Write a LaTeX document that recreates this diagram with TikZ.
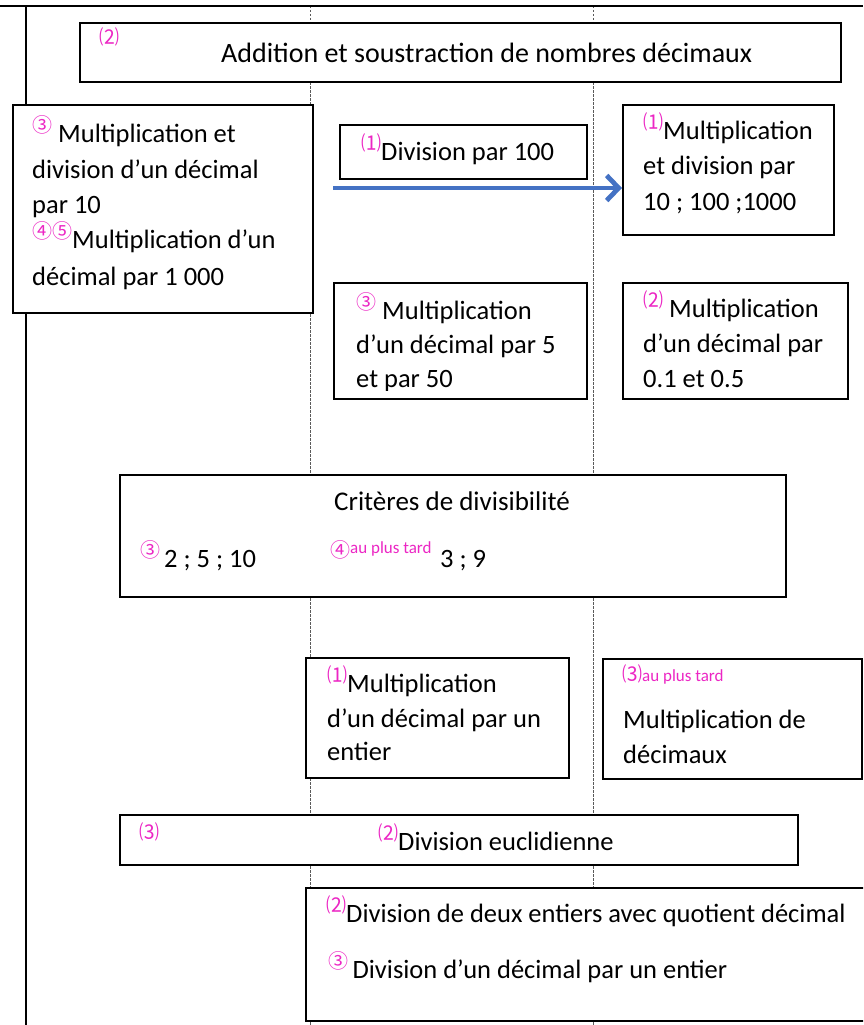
\documentclass[tikz,border=0pt]{standalone}
\usepackage{fontspec}
\setmainfont{Carlito}
\newfontfamily\cjkf{Noto Sans CJK JP}
\usetikzlibrary{arrows.meta}
\definecolor{mag}{RGB}{236,38,196}
\definecolor{arrblue}{RGB}{68,114,196}
\definecolor{dashgray}{RGB}{90,90,90}
\newcommand{\up}[1]{\raisebox{10pt}{\cjkf\fontsize{20}{20}\selectfont\color{mag}#1}}
\newcommand{\cjkmark}[1]{{\cjkf\fontsize{20}{20}\selectfont\color{mag}#1}}
\newcommand{\tardtxt}{{\fontsize{17}{17}\selectfont\color{mag}au plus tard}}
\begin{document}
\begin{tikzpicture}[x=1pt,y=-1pt,
  boxn/.style={draw, line width=1.6pt, fill=white, inner sep=0pt, anchor=north west},
  sline/.style={inner sep=0pt, anchor=base west, font=\fontsize{26.5}{32}\selectfont},
  mk/.style={inner sep=0pt, anchor=base west},
  frame/.style={line width=2pt, black},
  guide/.style={dashgray, line width=0.7pt, dash pattern=on 2.5pt off 1.5pt},
  arr/.style={arrblue, line width=4.8pt, -{Straight Barb[length=12pt,width=25pt]}}
]
\clip (0,0) rectangle (863,1025);
% frame and guide lines
\coordinate (ftl) at (0,6);
\coordinate (ftr) at (863,6);
\coordinate (flt) at (26,6);
\coordinate (flb) at (26,1025);
\coordinate (g1t) at (310,6);
\coordinate (g1b) at (310,1025);
\coordinate (g2t) at (593,6);
\coordinate (g2b) at (593,1025);
\draw[guide] (g1t) -- (g1b);
\draw[guide] (g2t) -- (g2b);
\draw[frame] (ftl) -- (ftr);
\draw[frame] (flt) -- (flb);

% boxes
\node[boxn, minimum width=761pt, minimum height=59pt] (add) at (79,22) {};
\node[boxn, minimum width=300pt, minimum height=208pt] (bA) at (12,104) {};
\node[boxn, minimum width=247pt, minimum height=54pt] (d100) at (339,124) {};
\node[boxn, minimum width=211pt, minimum height=130pt] (bB) at (622,104) {};
\node[boxn, minimum width=253pt, minimum height=116pt] (bC) at (333,282) {};
\node[boxn, minimum width=225pt, minimum height=116pt] (bD) at (622,282) {};
\node[boxn, minimum width=666pt, minimum height=122pt] (crit) at (119,474) {};
\node[boxn, minimum width=263pt, minimum height=120pt] (bE) at (305,657) {};
\node[boxn, minimum width=259pt, minimum height=120pt] (bF) at (602,658) {};
\node[boxn, minimum width=678pt, minimum height=50pt] (eucl) at (119,814) {};
\node[boxn, minimum width=575pt, minimum height=133pt] (last) at (305,887) {};

% arrow
\coordinate (aS) at (333,188);
\draw[arr] (aS) -- (aS -| bB.west);

% texts
\node[mk] (tadd2) at (99,45) {\cjkmark{⑵}};
\node[sline, font=\fontsize{28}{32}\selectfont] (tadd) at (221,63) {Addition et soustraction de nombres décimaux};

\node[sline] (tA1) at (32,142) {\up{③} Multiplication et};
\node[sline] (tA2) at (32,178) {division d’un décimal};
\node[sline] (tA3) at (32,213) {par 10};
\node[sline] (tA4) at (32,248) {\up{④⑤}Multiplication d’un};
\node[sline] (tA5) at (32,285) {décimal par 1 000};

\node[sline] (t100) at (361,160) {\up{⑴}Division par 100};

\node[sline] (tB1) at (643,139) {\up{⑴}Multiplication};
\node[sline] (tB2) at (643,174) {et division par};
\node[sline] (tB3) at (643,210) {10 ; 100 ;1000};

\begin{scope}
\clip (bC.north west) rectangle ([yshift=9pt]bC.south east);
\node[sline] (tC1) at (356,319) {\up{③} Multiplication};
\node[sline] (tC2) at (356,353) {d’un décimal par 5};
\node[sline] (tC3) at (356,387) {et par 50};
\end{scope}

\node[sline] (tD1) at (643,317) {\up{⑵} Multiplication};
\node[sline] (tD2) at (643,352) {d’un décimal par};
\node[sline] (tD3) at (643,387) {0.1 et 0.5};

\node[sline, anchor=base, font=\fontsize{27}{32}\selectfont] (tcrit) at (452,510) {Critères de divisibilité};
\node[sline] (tc1) at (140,567) {\up{③}\hspace{4pt}2 ; 5 ; 10};
\node[mk] (tc4) at (330,567) {\up{④}\raisebox{14pt}{\tardtxt}};
\node[sline] (tc39) at (440,567) {3 ; 9};

\node[sline] (tE1) at (327,692) {\up{⑴}Multiplication};
\node[sline] (tE2) at (327,727) {d’un décimal par un};
\node[sline] (tE3) at (327,760) {entier};

\node[mk] (tF1) at (622,681) {\cjkmark{⑶}\tardtxt};
\node[sline] (tF2) at (623,728) {Multiplication de};
\node[sline] (tF3) at (623,763) {décimaux};

\node[mk] (teu3) at (139,839) {\cjkmark{⑶}};
\node[sline] (teu) at (378,850) {\up{⑵}Division euclidienne};

\node[sline] (tl1) at (326,922) {\up{⑵}Division de deux entiers avec quotient décimal};
\node[sline] (tl2) at (328,978) {\up{③}\,Division d’un décimal par un entier};
\end{tikzpicture}
\end{document}
